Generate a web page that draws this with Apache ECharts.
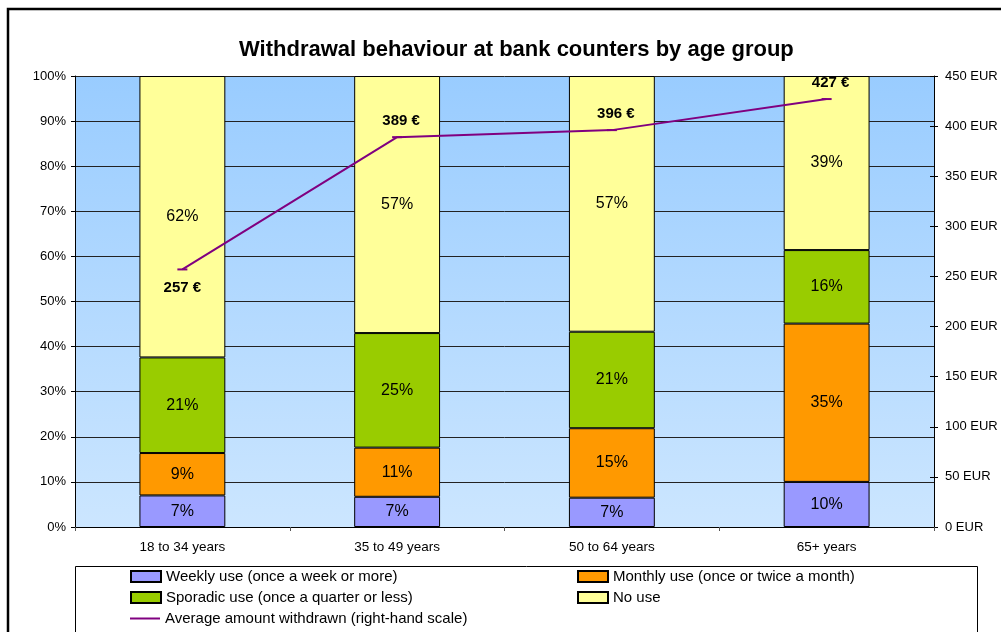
<!DOCTYPE html>
<html>
<head>
<meta charset="utf-8">
<script src="https://cdn.jsdelivr.net/npm/echarts@6/dist/echarts.min.js"></script>
<style>
  html, body { margin: 0; padding: 0; background: #fff; }
  #chart { width: 1001px; height: 632px; }
</style>
</head>
<body>
<div id="chart"></div>
<script>
// Age groups on the category axis
var ageGroups = ['18 to 34 years', '35 to 49 years', '50 to 64 years', '65+ years'];

// Share of respondents by usage frequency (percent of each age group)
var weeklyUse   = [7.0, 6.7, 6.5, 10.0];
var monthlyUse  = [9.4, 10.9, 15.4, 35.1];
var sporadicUse = [21.2, 25.4, 21.4, 16.3];
var noUse       = [62.4, 57.0, 56.7, 38.6];

// Average amount withdrawn per visit, in EUR (right-hand scale)
var avgWithdrawn = [257, 389, 396, 427];

var seriesNames = [
  'Weekly use (once a week or more)',
  'Monthly use (once or twice a month)',
  'Sporadic use (once a quarter or less)',
  'No use',
  'Average amount withdrawn (right-hand scale)'
];

var FONT = '"Liberation Sans", Arial, sans-serif';

function barSeries(name, data, color) {
  return {
    name: name,
    type: 'bar',
    stack: 'usage',
    data: data,
    barWidth: '40%',
    itemStyle: { color: color, borderColor: '#000', borderWidth: 1 },
    label: {
      show: true,
      position: 'inside',
      color: '#000',
      fontFamily: FONT,
      fontSize: 16,
      formatter: function (p) { return Math.round(p.value) + '%'; }
    },
    emphasis: { disabled: true }
  };
}

// One legend block per entry so each sits on its own row/column of the key box
function legendEntry(name, left, top, icon) {
  return {
    left: left, top: top,
    padding: 0,
    itemWidth: 30, itemHeight: 11,
    textStyle: { fontFamily: FONT, fontSize: 15, color: '#000', padding: [0, 0, 0, 0] },
    data: [{ name: name, icon: icon || 'rect' }]
  };
}

var chart = echarts.init(document.getElementById('chart'), null, { renderer: 'canvas' });

chart.setOption({
  animation: false,
  textStyle: { fontFamily: FONT },
  title: {
    text: 'Withdrawal behaviour at bank counters by age group',
    left: 234,
    top: 34,
    textStyle: { fontFamily: FONT, fontSize: 22, fontWeight: 'bold', color: '#000' }
  },
  grid: {
    left: 75, right: 67, top: 76, bottom: 105,
    show: true,
    borderWidth: 0,
    backgroundColor: {
      type: 'linear', x: 0, y: 0, x2: 0, y2: 1,
      colorStops: [
        { offset: 0, color: '#99ccff' },
        { offset: 1, color: '#cce6ff' }
      ]
    }
  },
  legend: [
    legendEntry(seriesNames[0], 130, 569),
    legendEntry(seriesNames[2], 130, 590),
    legendEntry(seriesNames[4], 130, 611, 'path://M0,0L30,0L30,2L0,2Z'),
    legendEntry(seriesNames[1], 577, 569),
    legendEntry(seriesNames[3], 577, 590)
  ],
  xAxis: {
    type: 'category',
    data: ageGroups,
    axisLine: { lineStyle: { color: '#000', width: 1 } },
    axisTick: { show: true, alignWithLabel: false, length: 4, lineStyle: { color: '#555' } },
    axisLabel: { color: '#000', fontSize: 13.5, fontFamily: FONT, margin: 13 }
  },
  yAxis: [
    {
      type: 'value',
      min: 0, max: 100, interval: 10,
      axisLine: { show: true, lineStyle: { color: '#000', width: 1 } },
      axisTick: { show: true, length: 4, lineStyle: { color: '#000' } },
      axisLabel: { color: '#000', fontSize: 13, fontFamily: FONT, margin: 9,
                   formatter: function (v) { return v + '%'; } },
      splitLine: { show: true, lineStyle: { color: '#222', width: 1 } }
    },
    {
      type: 'value',
      min: 0, max: 450, interval: 50,
      position: 'right',
      axisLine: { show: true, lineStyle: { color: '#000', width: 1 } },
      axisTick: { show: true, length: 4, inside: false, lineStyle: { color: '#000' } },
      axisLabel: { color: '#000', fontSize: 13, fontFamily: FONT, margin: 11,
                   formatter: function (v) { return v + ' EUR'; } },
      splitLine: { show: false }
    },
    {
      // inner half of the cross ticks on the right-hand scale
      type: 'value',
      min: 0, max: 450, interval: 50,
      position: 'right',
      axisLine: { show: false },
      axisTick: { show: true, length: 4, inside: true, lineStyle: { color: '#000' } },
      axisLabel: { show: false },
      splitLine: { show: false }
    }
  ],
  series: [
    barSeries(seriesNames[0], weeklyUse, '#9999ff'),
    barSeries(seriesNames[1], monthlyUse, '#ff9900'),
    barSeries(seriesNames[2], sporadicUse, '#99cc00'),
    barSeries(seriesNames[3], noUse, '#ffff99'),
    {
      name: seriesNames[4],
      type: 'line',
      yAxisIndex: 1,
      data: avgWithdrawn.map(function (v, i) {
        return {
          value: v,
          label: i === 0
            ? { position: 'bottom', distance: 10, offset: [0, 0] }
            : { position: 'top', distance: 8, offset: [4, 0] }
        };
      }),
      color: '#800080',
      lineStyle: { color: '#800080', width: 2 },
      symbol: 'rect',
      symbolSize: [10, 2],
      itemStyle: { color: '#800080' },
      label: {
        show: true,
        color: '#000',
        fontFamily: FONT,
        fontSize: 15,
        fontWeight: 'bold',
        formatter: function (p) { return p.value + ' \u20ac'; }
      },
      z: 5,
      emphasis: { disabled: true }
    }
  ],
  graphic: [
    {
      type: 'rect',
      shape: { x: 8, y: 9, width: 1010, height: 640 },
      style: { fill: 'none', stroke: '#000', lineWidth: 2.5 },
      silent: true, z: 100
    },
    {
      type: 'rect',
      shape: { x: 75.5, y: 566.5, width: 902, height: 80 },
      style: { fill: 'none', stroke: '#000', lineWidth: 1 },
      silent: true, z: 100
    }
  ]
});
</script>
</body>
</html>
